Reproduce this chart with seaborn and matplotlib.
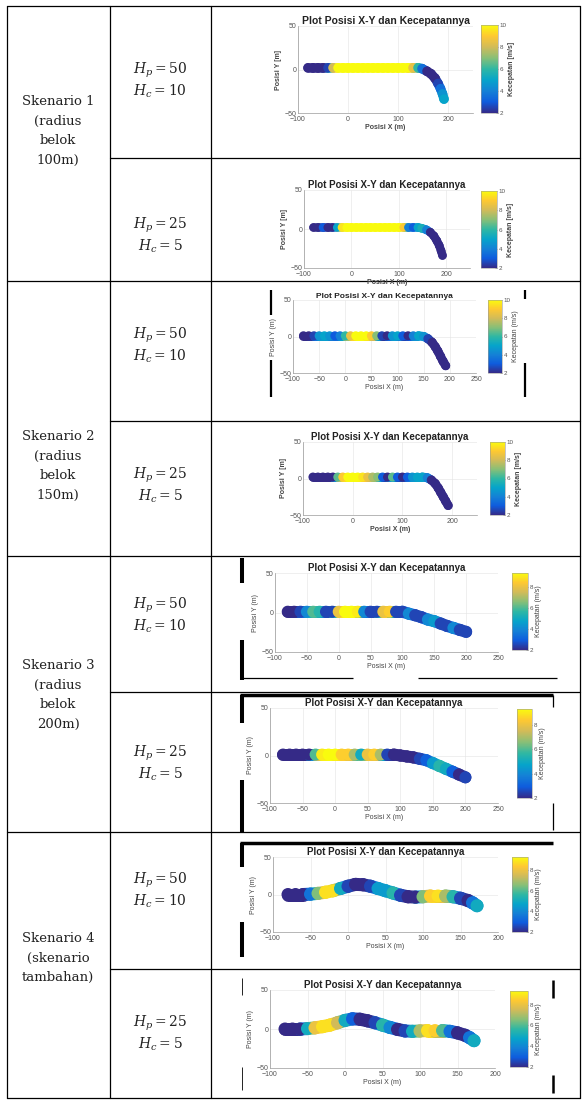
import numpy as np
import pandas as pd
import seaborn as sns
import matplotlib.pyplot as plt
from matplotlib.colors import LinearSegmentedColormap, Normalize
from matplotlib.cm import ScalarMappable
from matplotlib.collections import LineCollection

sns.set_style("white")
plt.rcParams['font.family'] = ['Liberation Sans', 'DejaVu Sans']
plt.rcParams['mathtext.fontset'] = 'dejavuserif'

W, H = 582, 1101

# trajectories: x, y in m, speed in m/s
s1a_x = [-80, -70, -60, -50, -40, -30, -20, -10, 0, 10, 20, 30, 40, 50, 60, 70, 80, 90, 100, 110, 120, 130, 140,
         148, 158, 166, 174, 180, 185, 189, 192]
s1a_y = [2, 2, 2, 2, 2, 2, 2, 2, 2, 2, 2, 2, 2, 2, 2, 2, 2, 2, 2, 2, 2, 2, 2,
         1, -2, -5, -10, -16, -22, -28, -34]
s1a_v = [2, 2, 2, 2, 2.5, 8, 10, 10, 10, 10, 10, 10, 10, 10, 10, 10, 10, 10, 10, 10, 10, 8.5, 6,
         3.5, 2, 2, 2, 2.5, 3.5, 4.5, 5]

s1b_x = [-80, -70, -60, -50, -40, -30, -20, -10, 0, 10, 20, 30, 40, 50, 60, 70, 80, 90, 100, 110, 120, 130, 140,
         148, 158, 166, 174, 180, 185, 189, 192]
s1b_y = [2, 2, 2, 2, 2, 2, 2, 2, 2, 2, 2, 2, 2, 2, 2, 2, 2, 2, 2, 2, 2, 2, 2,
         1, -1, -4, -9, -15, -21, -28, -34]
s1b_v = [2, 2, 3, 2, 2, 5, 9.5, 10, 10, 10, 10, 10, 10, 10, 10, 10, 10, 10, 10, 9, 4, 3, 5,
         5.5, 4, 2, 2, 2, 2, 2, 2]

s2a_x = [-80, -70, -60, -50, -40, -30, -20, -10, 0, 10, 20, 30, 40, 50, 60, 70, 80, 90, 100, 110, 120, 130, 140, 150,
         158, 166, 172, 177, 182, 187, 192]
s2a_y = [1, 1, 1, 1, 1, 1, 1, 1, 1, 1, 1, 1, 1, 1, 1, 1, 1, 1, 1, 1, 1, 1, 1, 0,
         -3, -8, -14, -20, -27, -34, -40]
s2a_v = [2, 2, 2.5, 4.5, 5, 4.5, 3, 4, 6, 8.5, 10, 10, 10, 9, 7, 2.5, 2, 4.5, 5, 3, 2, 4, 5, 4.5,
         2.5, 2, 2, 2, 2, 2, 2]

s2b_x = [-80, -70, -60, -50, -40, -30, -20, -10, 0, 10, 20, 30, 40, 50, 60, 70, 80, 90, 100, 110, 120, 130, 140, 150,
         158, 166, 172, 177, 182, 187, 192]
s2b_y = [2, 2, 2, 2, 2, 2, 2, 2, 2, 2, 2, 2, 2, 2, 2, 2, 2, 2, 2, 2, 2, 2, 2, 1,
         -2, -7, -13, -19, -25, -31, -37]
s2b_v = [2, 2, 2, 2, 2, 6.5, 9, 10, 10, 10, 9.5, 8.5, 7.5, 7, 3, 2, 6.5, 3, 2, 3, 4.5, 5, 5, 4,
         2, 2, 2, 2, 2, 2, 2]

s3a_x = [-80, -70, -60, -50, -40, -30, -20, -10, 0, 10, 20, 30, 40, 50, 60, 70, 80, 90, 100,
         110, 120, 130, 140, 150, 160, 170, 180, 190, 200]
s3a_y = [1, 1, 1, 1, 1, 1, 1, 1, 1, 1, 1, 1, 1, 1, 1, 1, 1, 1, 1,
         -1.5, -3.5, -6, -9, -11, -14, -17, -19.5, -22, -24.5]
s3a_v = [2, 2, 2.5, 4, 6, 5.5, 2.5, 2.5, 8, 9.3, 9.3, 9, 4, 2.5, 2.5, 8, 8.5, 2.5, 2.5,
         4, 2.5, 2.5, 4, 4.5, 2.5, 2.5, 4, 2.5, 2.5]

s3b_x = [-80, -70, -60, -50, -40, -30, -20, -10, 0, 10, 20, 30, 40, 50, 60, 70, 80, 90,
         100, 110, 120, 130, 140, 150, 160, 170, 180, 190, 200]
s3b_y = [1, 1, 1, 1, 1, 1, 1, 1, 1, 1, 1, 1, 1, 1, 1, 1, 1, 1,
         0, -1, -2, -3.5, -5, -8, -11, -14, -17, -20, -23]
s3b_v = [2, 2, 2, 2, 2, 6, 9, 9.3, 9.3, 8.5, 8.5, 7, 5, 8, 8.5, 7, 2.5, 2,
         2, 2, 2, 2.5, 3, 4.5, 5.5, 5, 3, 2, 2.5]

s4a_x = [-80, -70, -60, -50, -40, -30, -20, -10, 0, 10, 20, 30, 40, 50, 60, 70, 80, 90, 100, 110, 120, 130, 140,
         150, 160, 166, 172]
s4a_y = [0, 0, 0, 0.5, 1.5, 3, 5, 8, 11, 13.5, 13, 11, 8, 5, 2, -1, -3, -3.5, -3, -2, -2, -2, -3,
         -5, -8, -11, -15]
s4a_v = [2, 2, 2, 3.5, 6.5, 8.8, 8.8, 5, 2.5, 2, 2, 2.5, 4.5, 4.5, 5.5, 2.5, 2, 2, 6.5, 8.5, 8.8, 7, 5.5,
         2.5, 2, 3.5, 5]

s4b_x = [-80, -70, -60, -50, -40, -30, -20, -10, 0, 10, 20, 30, 40, 50, 60, 70, 80, 90, 100, 110, 120, 130, 140,
         150, 160, 166, 172]
s4b_y = [0, 0, 0, 0.5, 1.5, 3, 5, 8, 11, 13, 12.5, 10.5, 8, 5, 2, -0.5, -2.5, -3, -2.5, -2, -2, -2, -3,
         -5, -8, -11, -15]
s4b_v = [2, 2, 2, 5, 8, 8.8, 8.8, 7.5, 5, 3, 2, 2, 2.5, 5.5, 4, 2, 2.5, 5, 7, 8.8, 8.5, 6, 3.5,
         2, 2, 3.5, 5]

scenario_lines = [["Skenario 1", "(radius", "belok", "100m)"],
                  ["Skenario 2", "(radius", "belok", "150m)"],
                  ["Skenario 3", "(radius", "belok", "200m)"],
                  ["Skenario 4", "(skenario", "tambahan)"]]
hp_labels = [r"$H_p = 50$", r"$H_p = 25$"]
hc_labels = [r"$H_c = 10$", r"$H_c = 5$"]

title = "Plot Posisi X-Y dan Kecepatannya"

# parula-ish colormap like the MATLAB default
parula = LinearSegmentedColormap.from_list("parula", [
    "#352a87", "#0f5cdd", "#1481d6", "#06a4ca", "#2eb7a4",
    "#87bf77", "#d1bb59", "#fec832", "#f9fb0e"])

fig = plt.figure(figsize=(W / 100, H / 100), dpi=100)
tab = fig.add_axes([0, 0, 1, 1])
tab.set_xlim(0, W)
tab.set_ylim(H, 0)
tab.axis('off')


def box(l, t, r, b):
    return [l / W, 1 - b / H, (r - l) / W, (b - t) / H]


# table grid
xl, xc1, xc2, xr = 6.7, 109.5, 210.5, 580
ytop, ybot = 5.6, 1098
blocks = [ytop, 281, 556, 832, ybot]
splits = [158, 421, 692, 969]
lw = 0.9
for xx in [xl, xc1, xc2, xr]:
    tab.plot([xx, xx], [ytop, ybot], color='black', lw=lw)
for yy in blocks:
    tab.plot([xl, xr], [yy, yy], color='black', lw=lw)
for yy in splits:
    tab.plot([xc1, xr], [yy, yy], color='black', lw=lw)

# scenario text
centres = [131, 466, 695, 958]
for lines, yc in zip(scenario_lines, centres):
    n = len(lines)
    for i, s in enumerate(lines):
        tab.text((xl + xc1) / 2, yc + (i - (n - 1) / 2) * 19.5, s,
                 ha='center', va='center', fontsize=9.5, family='DejaVu Serif', color='#222')

hp_y = [70, 225, 335, 475, 605, 753, 880, 1023]
for k, yy in enumerate(hp_y):
    tab.text((xc1 + xc2) / 2, yy, hp_labels[k % 2], ha='center', va='center', fontsize=10, color='#222')
    tab.text((xc1 + xc2) / 2, yy + 21, hc_labels[k % 2], ha='center', va='center', fontsize=10, color='#222')

# leftover borders of the pasted screenshots
bars = [
    (271, 290, 271, 315, 1.6), (271, 360, 271, 397, 1.6),
    (525, 290, 525, 299, 1.6), (525, 363, 525, 397, 1.6),
    (242, 558, 242, 583, 2.9), (242, 640, 242, 680, 2.9),
    (240, 678, 353, 678, 0.9), (418, 678, 557, 678, 0.9),
    (240, 695, 553, 695, 2.5), (242, 695, 242, 723, 2.9), (242, 780, 242, 832, 2.9),
    (553, 695, 553, 707, 0.9), (553, 803, 553, 830, 0.9),
    (240, 843, 553, 843, 2.5), (242, 843, 242, 867, 2.9), (242, 922, 242, 957, 2.9),
    (553, 980, 553, 998, 1.8), (553, 1075, 553, 1093, 1.8),
    (242, 978, 242, 995, 0.6), (242, 1067, 242, 1090, 0.6),
]
for x0, y0, x1, y1, w in bars:
    tab.plot([x0, x1], [y0, y1], color='black', lw=w, solid_capstyle='butt')

t_short = [-100, 0, 100, 200]
t_350 = [-100, -50, 0, 50, 100, 150, 200, 250]
t_300 = [-100, -50, 0, 50, 100, 150, 200]
panels = [
    dict(x=s1a_x, y=s1a_y, v=s1a_v, ax=(298, 26, 473, 113), cb=(481, 25, 498, 113), xlim=(-100, 250),
         xt=t_short, vmax=10, d=9.5, bold=True, ts=7.5),
    dict(x=s1b_x, y=s1b_y, v=s1b_v, ax=(304, 190, 470, 268), cb=(481, 191, 497, 268), xlim=(-100, 250),
         xt=t_short, vmax=10, d=8.5, bold=True, ts=7),
    dict(x=s2a_x, y=s2a_y, v=s2a_v, ax=(293, 300, 476, 373), cb=(488, 300, 502, 373), xlim=(-100, 250),
         xt=t_350, vmax=10, d=9, bold=False, ts=6),
    dict(x=s2b_x, y=s2b_y, v=s2b_v, ax=(303, 442, 477, 515), cb=(490, 442, 505, 515), xlim=(-100, 250),
         xt=t_short, vmax=10, d=9, bold=True, ts=7),
    dict(x=s3a_x, y=s3a_y, v=s3a_v, ax=(275, 573, 498, 652), cb=(512, 573, 528, 650), xlim=(-100, 250),
         xt=t_350, vmax=9.3, d=12, bold=False, ts=7),
    dict(x=s3b_x, y=s3b_y, v=s3b_v, ax=(270, 708, 498, 803), cb=(517, 709, 532, 798), xlim=(-100, 250),
         xt=t_350, vmax=9.3, d=12, bold=False, ts=7),
    dict(x=s4a_x, y=s4a_y, v=s4a_v, ax=(273, 857, 498, 932), cb=(512, 857, 528, 932), xlim=(-100, 200),
         xt=t_300, vmax=9.3, d=13, bold=False, ts=7),
    dict(x=s4b_x, y=s4b_y, v=s4b_v, ax=(270, 990, 495, 1068), cb=(510, 991, 528, 1067), xlim=(-100, 200),
         xt=t_300, vmax=9.3, d=13, bold=False, ts=7),
]

for p in panels:
    ax = fig.add_axes(box(*p['ax']))
    norm = Normalize(2, p['vmax'])
    width = p['d'] * 0.72

    # continuous band between the read points, then the points themselves
    pts = np.column_stack([p['x'], p['y']])
    segs = np.stack([pts[:-1], pts[1:]], axis=1)
    seg_v = (np.array(p['v'][:-1]) + np.array(p['v'][1:])) / 2
    lc = LineCollection(segs, cmap=parula, norm=norm, linewidths=width, capstyle='round', zorder=2)
    lc.set_array(seg_v)
    ax.add_collection(lc)

    df = pd.DataFrame({'x': p['x'], 'y': p['y'], 'v': p['v']})
    sns.scatterplot(data=df, x='x', y='y', hue='v', palette=parula, hue_norm=(2, p['vmax']),
                    s=width ** 2, linewidth=0, legend=False, ax=ax, zorder=3)
    ax.set_xlim(*p['xlim'])
    ax.set_ylim(-50, 50)
    ax.set_xticks(p['xt'])
    ax.set_yticks([-50, 0, 50])
    ax.grid(True, color='#e4e4e4', lw=0.4)
    for side in ['top', 'right']:
        ax.spines[side].set_visible(False)
    for side in ['left', 'bottom']:
        ax.spines[side].set_color('#9a9a9a')
        ax.spines[side].set_linewidth(0.5)
    ax.tick_params(labelsize=5, length=1.5, width=0.4, direction='in', colors='#555')
    ax.tick_params(axis='x', pad=2.2)
    ax.tick_params(axis='y', pad=1.2)
    wt = 'bold' if p['bold'] else 'normal'
    ax.set_xlabel("Posisi X (m)", fontsize=5, labelpad=1, color='#444', fontweight=wt)
    ax.set_ylabel("Posisi Y [m]" if p['bold'] else "Posisi Y (m)", fontsize=5, labelpad=1.5,
                  color='#444', fontweight=wt)
    ax.set_title(title, fontsize=p['ts'], fontweight='bold', pad=1.5, color='#222')

    cax = fig.add_axes(box(*p['cb']))
    sm = ScalarMappable(norm=norm, cmap=parula)
    cb = fig.colorbar(sm, cax=cax)
    cb.set_ticks([2, 4, 6, 8, 10] if p['vmax'] >= 10 else [2, 4, 6, 8])
    cb.ax.tick_params(labelsize=4.5, length=1.2, width=0.4, direction='in', pad=1, colors='#555')
    cb.outline.set_linewidth(0.4)
    cb.outline.set_edgecolor('#9a9a9a')
    cb.set_label("Kecepatan [m/s]" if p['bold'] else "Kecepatan (m/s)", fontsize=5, labelpad=1.5,
                 color='#444', fontweight=wt)

fig.savefig("out.png", dpi=100)
